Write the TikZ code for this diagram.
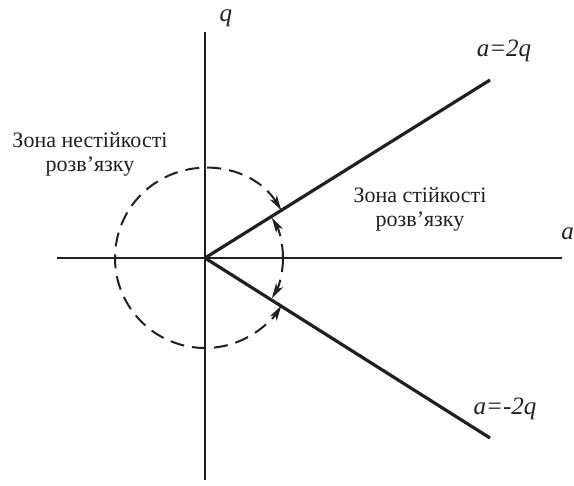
\documentclass[tikz,border=0pt]{standalone}
\usepackage{fontspec}
\setmainfont{Liberation Serif}
\usepackage{tikz}
\usetikzlibrary{arrows.meta, positioning, calc}
\definecolor{plotdark}{HTML}{202020}
\tikzset{
  axis/.style={draw=plotdark, line width=2.2pt},
  ray/.style={draw=plotdark, line width=3.2pt},
  zonearc/.style={draw=plotdark, line width=2pt, dash pattern=on 14pt off 8pt},
  lbl/.style={font=\fontsize{22}{24}\selectfont, text=plotdark, align=center, inner sep=0pt},
  axlbl/.style={lbl, font=\fontsize{25}{27}\selectfont\itshape},
}
\begin{document}
\begin{tikzpicture}[x=1pt, y=1pt, >={Stealth[length=15pt,width=8pt,inset=4pt]}]
  \useasboundingbox (-205,-228) rectangle (369,258);
  \coordinate (O) at (0,0);
  \coordinate (xl) at (-148,0);
  \coordinate (xr) at (357,0);
  \coordinate (yt) at (0,226);
  \coordinate (yb) at (0,-222);
  \coordinate (up) at (285,178);
  \coordinate (dn) at (285,-180);

  % axes and boundary rays
  \draw[axis] (xl) -- (xr);
  \draw[axis] (yb) -- (yt);
  \draw[ray] (O) -- (up);
  \draw[ray] (O) -- (dn);

  % instability circle and stable arcs
  \draw[zonearc, <->] (32:90) arc[start angle=32, end angle=328, radius=90];
  \draw[zonearc, ->] (0:78) arc[start angle=0, end angle=31, radius=78];
  \draw[zonearc, ->] (0:78) arc[start angle=0, end angle=-31, radius=78];

  \node[axlbl] (qlbl) at (21,240) {q};
  \node[axlbl, anchor=east] (albl) at (369,24) {a};
  \node[axlbl] (upl) at (299,207) {a=2q};
  \node[axlbl] (dnl) at (300,-151) {a=-2q};
  \node[lbl] (unst) at (-115,104) {Зона нестійкості\\розв’язку};
  \node[lbl] (st) at (215,49) {Зона стійкості\\розв’язку};
\end{tikzpicture}
\end{document}
